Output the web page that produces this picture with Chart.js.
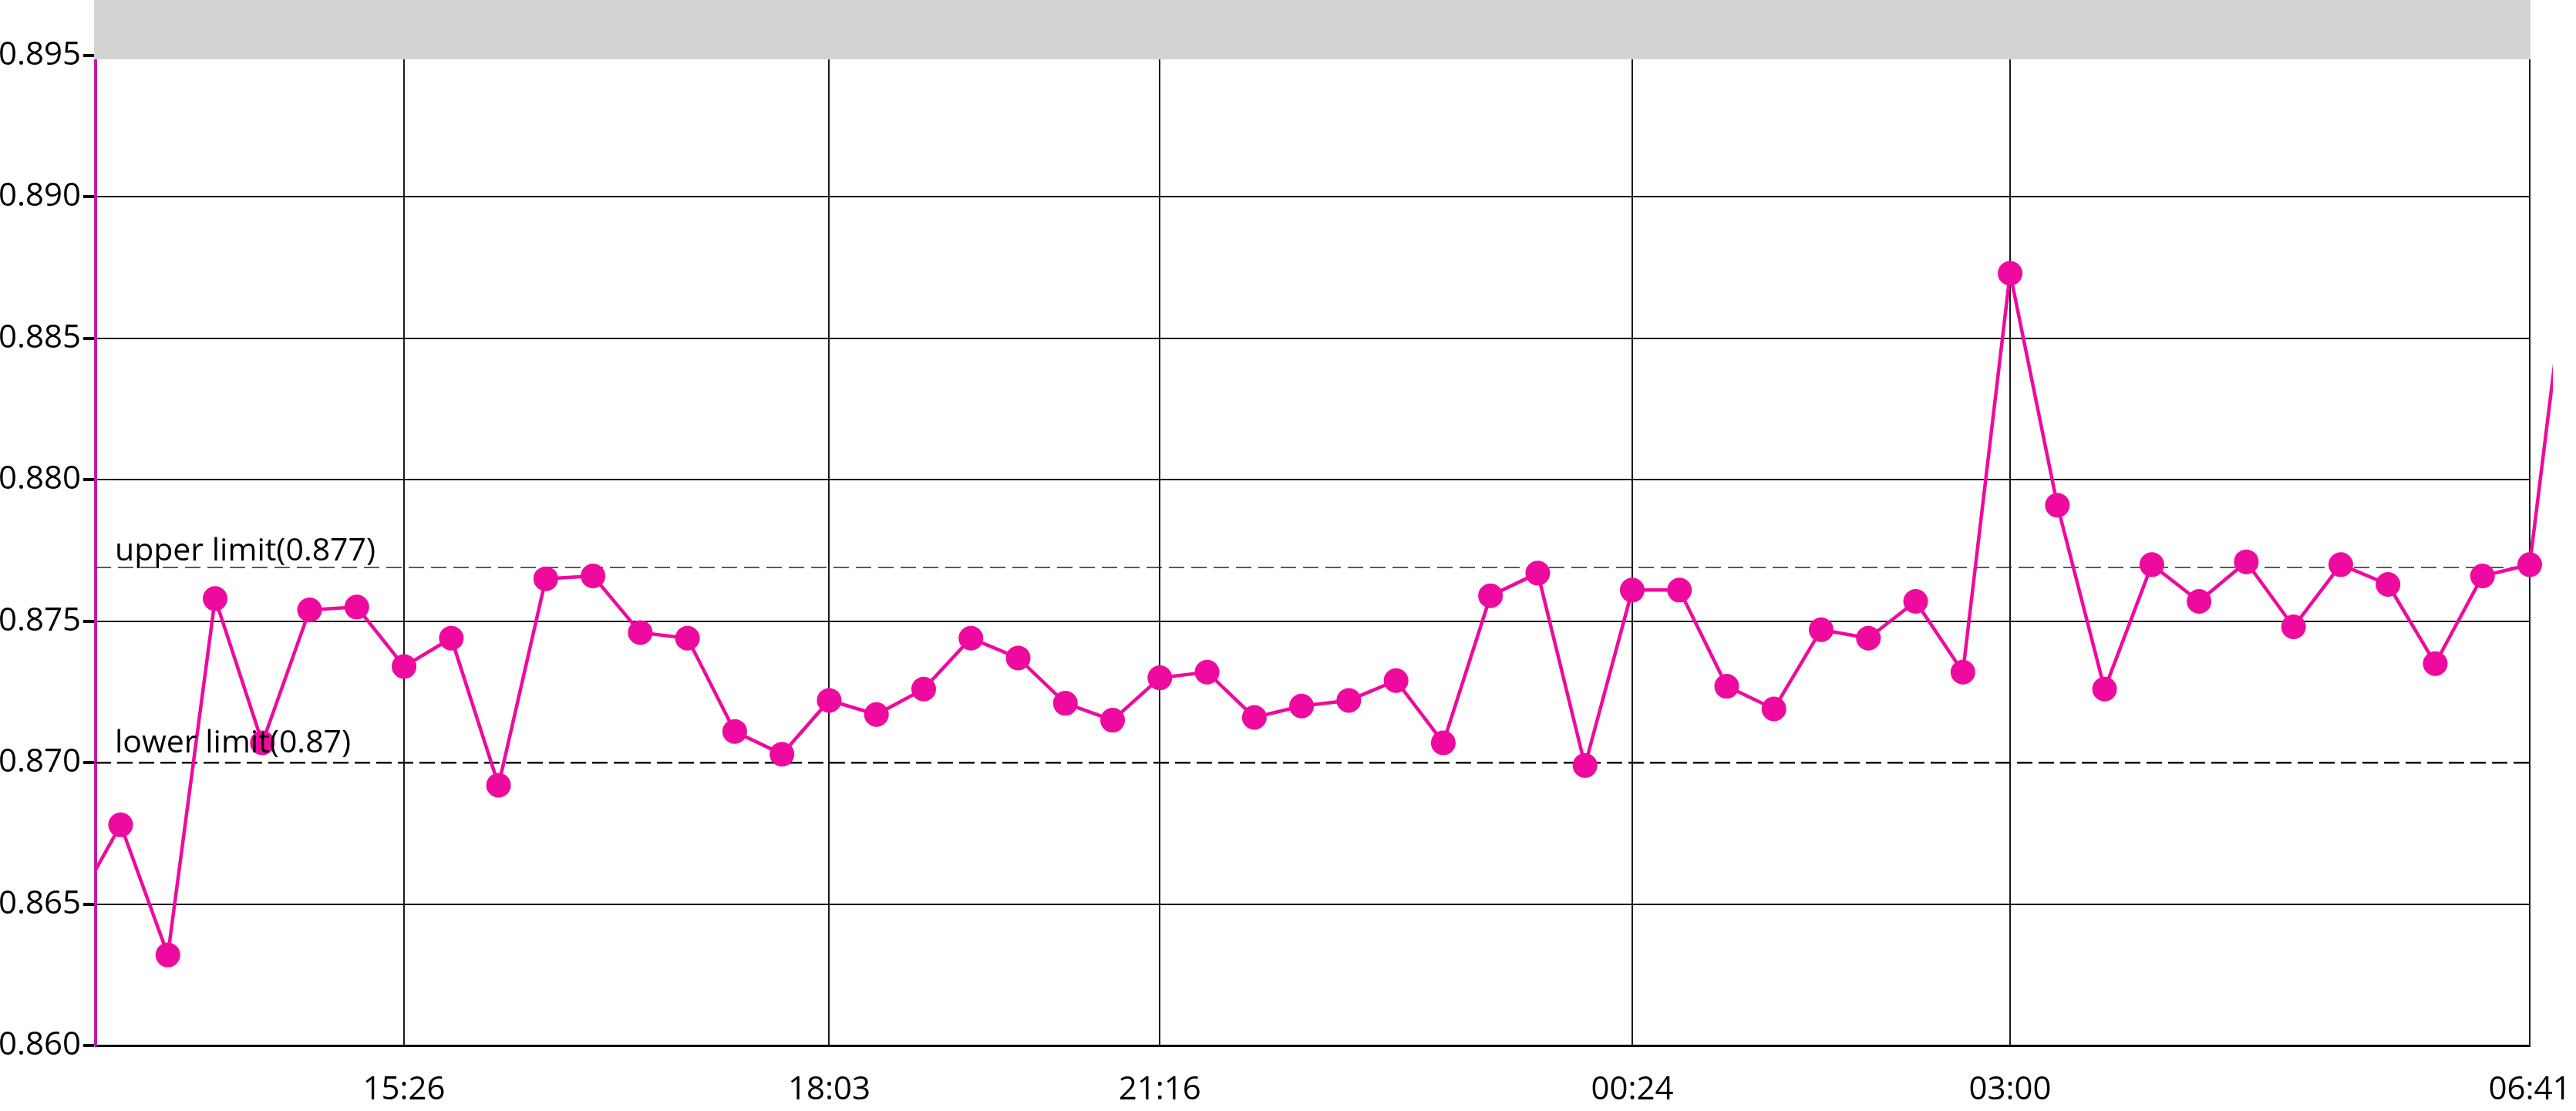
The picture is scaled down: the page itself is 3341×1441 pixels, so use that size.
<!DOCTYPE html>
<html>
<head>
<meta charset="utf-8">
<script src="https://cdn.jsdelivr.net/npm/chart.js@4/dist/chart.umd.min.js"></script>
<style>
html,body{margin:0;padding:0;background:#ffffff;overflow:hidden;}
#wrap{width:3341px;height:1441px;position:relative;}
</style>
</head>
<body>
<div id="wrap"><canvas id="c"></canvas></div>
<script>
// ---- data ----
const categories = [
  '', '', '', '', '', '', '', '15:26', '', '',
  '', '', '', '', '', '', '18:03', '', '', '',
  '', '', '', '21:16', '', '', '', '', '', '',
  '', '', '', '00:24', '', '', '', '', '', '',
  '', '03:00', '', '', '', '', '', '', '', '',
  '', '', '06:41', ''
];
const values = [
  0.8648, 0.8678, 0.8632, 0.8758, 0.8707, 0.8754, 0.8755, 0.8734, 0.8744, 0.8692,
  0.8765, 0.8766, 0.8746, 0.8744, 0.8711, 0.8703, 0.8722, 0.8717, 0.8726, 0.8744,
  0.8737, 0.8721, 0.8715, 0.8730, 0.8732, 0.8716, 0.8720, 0.8722, 0.8729, 0.8707,
  0.8759, 0.8767, 0.8699, 0.8761, 0.8761, 0.8727, 0.8719, 0.8747, 0.8744, 0.8757,
  0.8732, 0.8873, 0.8791, 0.8726, 0.8770, 0.8757, 0.8771, 0.8748, 0.8770, 0.8763,
  0.8735, 0.8766, 0.8770, 0.8905
];
const yTickValues = [0.860, 0.865, 0.870, 0.875, 0.880, 0.885, 0.890, 0.895];
const xRange = [0.47, 52];
const upperLimit = 0.8769;
const upperLimitText = 'upper limit(0.877)';
const lowerLimit = 0.870;
const lowerLimitText = 'lower limit(0.87)';

// ---- styles ----
const FONT = "'Open Sans', 'Noto Sans', sans-serif";
const LINE_COLOR = '#ee0a9f';
const AXIS_COLOR = '#c21aa6';
const GRID_COLOR = '#1a1a1a';

const points = values.map((v, i) => ({ x: i, y: v }));
const xTickIdx = categories.map((c, i) => (c ? i : -1)).filter(i => i >= 0);

const overlay = {
  id: 'overlay',
  afterDatasetsDraw(chart) {
    const { ctx, chartArea: a, scales: { y } } = chart;
    ctx.save();
    ctx.fillStyle = '#d3d3d3';
    ctx.fillRect(a.left - 2, 0, a.right - a.left + 3, a.top + 5);
    ctx.fillStyle = '#000';
    ctx.font = '41px ' + FONT;
    ctx.textAlign = 'left';
    ctx.textBaseline = 'alphabetic';
    ctx.fillText(upperLimitText, a.left + 25, y.getPixelForValue(upperLimit) - 9);
    ctx.fillText(lowerLimitText, a.left + 25, y.getPixelForValue(lowerLimit) - 13);
    ctx.restore();
  }
};

new Chart(document.getElementById('c'), {
  type: 'line',
  data: {
    datasets: [
      {
        data: points,
        borderColor: LINE_COLOR,
        backgroundColor: LINE_COLOR,
        pointBackgroundColor: LINE_COLOR,
        pointBorderWidth: 0,
        pointRadius: 16,
        borderWidth: 4.5,
        tension: 0,
        clip: { left: 0, top: 0, right: 30, bottom: 0 },
        order: 0
      },
      {
        data: [{ x: xRange[0], y: upperLimit }, { x: xRange[1], y: upperLimit }],
        borderColor: '#262626',
        borderWidth: 1.5,
        borderDash: [20, 9],
        pointRadius: 0,
        order: 1
      },
      {
        data: [{ x: xRange[0], y: lowerLimit }, { x: xRange[1], y: lowerLimit }],
        borderColor: '#000000',
        borderWidth: 2.5,
        borderDash: [20, 8],
        pointRadius: 0,
        order: 1
      }
    ]
  },
  options: {
    responsive: true,
    maintainAspectRatio: false,
    animation: false,
    devicePixelRatio: 1,
    layout: { padding: { top: 72, right: 60, left: 0, bottom: 0 } },
    plugins: { legend: { display: false }, tooltip: { enabled: false } },
    scales: {
      x: {
        type: 'linear',
        bounds: 'data',
        afterDataLimits: s => { s.min = xRange[0]; s.max = xRange[1]; },
        afterBuildTicks: s => { s.ticks = xTickIdx.map(v => ({ value: v })); },
        afterFit: s => { s.height = 85; },
        ticks: {
          callback: v => categories[v] || '',
          autoSkip: false,
          maxRotation: 0,
          padding: 2,
          color: '#000',
          font: { family: FONT, size: 42 }
        },
        grid: { color: GRID_COLOR, lineWidth: 2, drawTicks: true, tickLength: 31, tickColor: 'rgba(0,0,0,0)' },
        border: { color: '#000', width: 3 }
      },
      y: {
        min: 0.86,
        max: 0.895,
        afterBuildTicks: s => { s.ticks = yTickValues.map(v => ({ value: v })); },
        afterFit: s => { s.width = 124; },
        ticks: {
          callback: v => Number(v).toFixed(3),
          padding: 3,
          color: '#000',
          font: { family: FONT, size: 42 }
        },
        grid: {
          color: c => (c.tick && Math.abs(c.tick.value - lowerLimit) < 1e-9 ? 'rgba(0,0,0,0)' : GRID_COLOR),
          lineWidth: 2,
          tickLength: 16,
          tickWidth: 4,
          tickColor: '#000'
        },
        border: { color: AXIS_COLOR, width: 4 }
      }
    }
  },
  plugins: [overlay]
});
</script>
</body>
</html>
